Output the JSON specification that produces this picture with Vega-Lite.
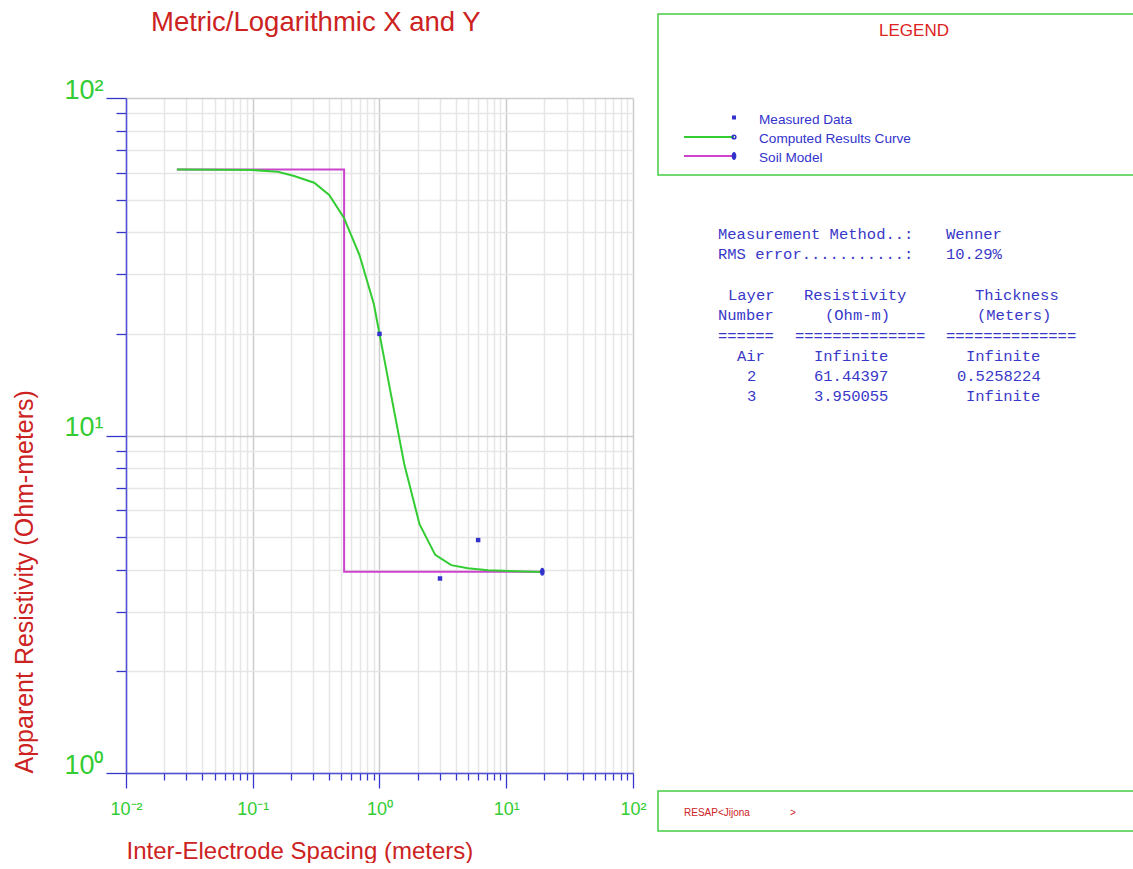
{
  "$schema": "https://vega.github.io/schema/vega-lite/v6.json",
  "padding": {"left": 12, "top": 8, "right": 0, "bottom": 0},
  "background": "white",
  "spacing": 25,
  "bounds": "flush",
  "config": {"view": {"stroke": null}, "font": "Liberation Sans"},
  "hconcat": [
    {
      "width": 507,
      "height": 675,
      "title": {"text": "Metric/Logarithmic X and Y", "anchor": "start", "frame": "group", "dx": 25, "fontSize": 27.5, "font": "Liberation Sans", "fontWeight": "normal", "color": "#cc2222", "offset": 18, "baseline": "alphabetic"},
      "encoding": {
        "x": {
          "field": "x", "type": "quantitative",
          "scale": {"type": "log", "domain": [0.01, 100], "nice": false},
          "axis": {
            "values": [0.01,0.02,0.03,0.04,0.05,0.06,0.07,0.08,0.09,0.1,0.2,0.3,0.4,0.5,0.6,0.7,0.8,0.9,1,2,3,4,5,6,7,8,9,10,20,30,40,50,60,70,80,90,100],
            "labelExpr": "datum.value == 0.01 ? '10⁻²' : datum.value == 0.1 ? '10⁻¹' : datum.value == 1 ? '10⁰' : datum.value == 10 ? '10¹' : datum.value == 100 ? '10²' : ''",
            "labelFont": "Liberation Sans", "labelFontSize": 18, "labelColor": "#33cc33",
            "labelBaseline": "alphabetic", "labelPadding": 26, "labelOverlap": false, "labelFlush": false, "labelBound": false,
            "tickColor": "#3535c8", "tickWidth": 1.3,
            "tickSize": {"condition": {"test": "indexof([0.01,0.1,1,10,100], datum.value) >= 0", "value": 15}, "value": 7},
            "domainColor": "#5050d8", "domainWidth": 1.5,
            "grid": true, "gridWidth": 1.5,
            "gridColor": {"condition": {"test": "indexof([0.01,0.1,1,10,100], datum.value) >= 0", "value": "#cccccc"}, "value": "#e6e6e6"},
            "title": "Inter-Electrode Spacing (meters)", "titleFont": "Liberation Sans", "titleFontSize": 24, "titleFontWeight": "normal", "titleColor": "#cc2222",
            "titleAnchor": "start", "titleAlign": "left", "titleBaseline": "alphabetic", "titlePadding": 40
          }
        },
        "y": {
          "field": "y", "type": "quantitative",
          "scale": {"type": "log", "domain": [1, 100], "nice": false},
          "axis": {
            "values": [1,2,3,4,5,6,7,8,9,10,20,30,40,50,60,70,80,90,100],
            "labelExpr": "datum.value == 1 ? '10⁰' : datum.value == 10 ? '10¹' : datum.value == 100 ? '10²' : ''",
            "labelFont": "Liberation Sans", "labelFontSize": 27, "labelColor": "#33cc33",
            "labelBaseline": "alphabetic", "labelAlign": "right", "labelPadding": 3, "labelOverlap": false, "labelFlush": false, "labelBound": false,
            "tickColor": "#3535c8", "tickWidth": 1.3,
            "tickSize": {"condition": {"test": "indexof([1,10,100], datum.value) >= 0", "value": 20}, "value": 10},
            "domainColor": "#5050d8", "domainWidth": 1.5,
            "grid": true, "gridWidth": 1.5,
            "gridColor": {"condition": {"test": "indexof([1,10,100], datum.value) >= 0", "value": "#cccccc"}, "value": "#e6e6e6"},
            "title": "Apparent Resistivity (Ohm-meters)", "titleFont": "Liberation Sans", "titleFontSize": 25, "titleFontWeight": "normal", "titleColor": "#cc2222",
            "titleAnchor": "start", "titlePadding": 26
          }
        }
      },
      "layer": [
        {
          "data": {"values": [
            {"x": 0.0252, "y": 61.44, "o": 1},
            {"x": 0.5258, "y": 61.44, "o": 2},
            {"x": 0.5258, "y": 3.95, "o": 3},
            {"x": 19.24, "y": 3.95, "o": 4}
          ]},
          "mark": {"type": "line", "color": "#cc44cc", "strokeWidth": 2},
          "encoding": {"order": {"field": "o", "type": "quantitative"}}
        },
        {
          "data": {"values": [
            {"x": 0.0252, "y": 61.4, "o": 1},
            {"x": 0.1007, "y": 61.16, "o": 2},
            {"x": 0.1578, "y": 60.45, "o": 3},
            {"x": 0.2122, "y": 58.71, "o": 4},
            {"x": 0.3053, "y": 56.1, "o": 5},
            {"x": 0.4009, "y": 51.6, "o": 6},
            {"x": 0.5236, "y": 44.2, "o": 7},
            {"x": 0.6952, "y": 34.25, "o": 8},
            {"x": 0.9033, "y": 24.47, "o": 9},
            {"x": 1.193, "y": 14.1, "o": 10},
            {"x": 1.567, "y": 8.23, "o": 11},
            {"x": 2.069, "y": 5.46, "o": 12},
            {"x": 2.752, "y": 4.43, "o": 13},
            {"x": 3.681, "y": 4.13, "o": 14},
            {"x": 4.985, "y": 4.04, "o": 15},
            {"x": 7.17, "y": 3.987, "o": 16},
            {"x": 19.24, "y": 3.94, "o": 17}
          ]},
          "mark": {"type": "line", "color": "#33cc33", "strokeWidth": 2},
          "encoding": {"order": {"field": "o", "type": "quantitative"}}
        },
        {
          "data": {"values": [
            {"x": 1.0, "y": 20.0},
            {"x": 3.0, "y": 3.77},
            {"x": 6.0, "y": 4.9}
          ]},
          "mark": {"type": "point", "shape": "square", "filled": true, "size": 20, "color": "#3333cc", "opacity": 1}
        },
        {
          "data": {"values": [
            {"x": 19.24, "y": 3.95}
          ]},
          "mark": {"type": "point", "shape": "M0,-1A0.6,1 0 1,1 0,1A0.6,1 0 1,1 0,-1Z", "filled": true, "size": 64, "color": "#3333cc", "opacity": 1}
        }
      ]
    },
    {
      "width": 476,
      "height": 675,
      "encoding": {
        "x": {"field": "x", "type": "quantitative", "scale": {"domain": [657, 1133], "nice": false, "zero": false}, "axis": null},
        "y": {"field": "y", "type": "quantitative", "scale": {"domain": [97, 772], "nice": false, "zero": false, "reverse": true}, "axis": null}
      },
      "layer": [
        {
          "data": {"values": [
            {"x": 657, "x2": 1137, "y": 13, "y2": 174},
            {"x": 657, "x2": 1137, "y": 790, "y2": 830}
          ]},
          "mark": {"type": "rect", "fill": null, "stroke": "#44cc44", "strokeWidth": 1.5},
          "encoding": {"x2": {"field": "x2"}, "y2": {"field": "y2"}}
        },
        {
          "data": {"values": [{"x": 913, "y": 35, "t": "LEGEND"}]},
          "mark": {"type": "text", "align": "center", "baseline": "alphabetic", "font": "Liberation Sans", "fontSize": 17, "color": "#dd2222"},
          "encoding": {"text": {"field": "t"}}
        },
        {
          "data": {"values": [
            {"x": 683, "x2": 733, "y": 136, "c": "Computed Results Curve"},
            {"x": 683, "x2": 733, "y": 155, "c": "Soil Model"}
          ]},
          "mark": {"type": "rule", "strokeWidth": 2},
          "encoding": {
            "x2": {"field": "x2"},
            "color": {"field": "c", "type": "nominal", "scale": {"domain": ["Computed Results Curve", "Soil Model"], "range": ["#33cc33", "#cc44cc"]}, "legend": null}
          }
        },
        {
          "data": {"values": [{"x": 733, "y": 116.5}]},
          "mark": {"type": "point", "shape": "square", "filled": true, "size": 16, "color": "#3333cc", "opacity": 1}
        },
        {
          "data": {"values": [{"x": 733, "y": 136}]},
          "mark": {"type": "point", "shape": "circle", "filled": false, "size": 14, "strokeWidth": 1.5, "color": "#3333cc", "opacity": 1}
        },
        {
          "data": {"values": [{"x": 733, "y": 155}]},
          "mark": {"type": "point", "shape": "M0,-1A0.6,1 0 1,1 0,1A0.6,1 0 1,1 0,-1Z", "filled": true, "size": 64, "color": "#3333cc", "opacity": 1}
        },
        {
          "data": {"values": [
            {"x": 758, "y": 123, "t": "Measured Data"},
            {"x": 758, "y": 142, "t": "Computed Results Curve"},
            {"x": 758, "y": 161, "t": "Soil Model"}
          ]},
          "mark": {"type": "text", "align": "left", "baseline": "alphabetic", "font": "Liberation Sans", "fontSize": 13.6, "color": "#3333cc"},
          "encoding": {"text": {"field": "t"}}
        },
        {
          "data": {"values": [
            {"x": 717, "y": 238, "t": "Measurement Method..:"},
            {"x": 945, "y": 238, "t": "Wenner"},
            {"x": 717, "y": 258.3, "t": "RMS error...........:"},
            {"x": 945, "y": 258.3, "t": "10.29%"},
            {"x": 727, "y": 299, "t": "Layer"},
            {"x": 803, "y": 299, "t": "Resistivity"},
            {"x": 974, "y": 299, "t": "Thickness"},
            {"x": 717, "y": 319.2, "t": "Number"},
            {"x": 824, "y": 319.2, "t": "(Ohm-m)"},
            {"x": 976, "y": 319.2, "t": "(Meters)"},
            {"x": 717, "y": 339.5, "t": "======"},
            {"x": 794, "y": 339.5, "t": "=============="},
            {"x": 945, "y": 339.5, "t": "=============="},
            {"x": 736, "y": 359.8, "t": "Air"},
            {"x": 813, "y": 359.8, "t": "Infinite"},
            {"x": 965, "y": 359.8, "t": "Infinite"},
            {"x": 746, "y": 380, "t": "2"},
            {"x": 813, "y": 380, "t": "61.44397"},
            {"x": 956, "y": 380, "t": "0.5258224"},
            {"x": 746, "y": 400.3, "t": "3"},
            {"x": 813, "y": 400.3, "t": "3.950055"},
            {"x": 965, "y": 400.3, "t": "Infinite"}
          ]},
          "mark": {"type": "text", "align": "left", "baseline": "alphabetic", "font": "Liberation Mono", "fontSize": 15.5, "color": "#3838c8"},
          "encoding": {"text": {"field": "t"}}
        },
        {
          "data": {"values": [
            {"x": 683, "y": 815, "t": "RESAP<Jijona"},
            {"x": 789, "y": 815, "t": ">"}
          ]},
          "mark": {"type": "text", "align": "left", "baseline": "alphabetic", "font": "Liberation Sans", "fontSize": 10, "color": "#cc2222"},
          "encoding": {"text": {"field": "t"}}
        }
      ]
    }
  ]
}
